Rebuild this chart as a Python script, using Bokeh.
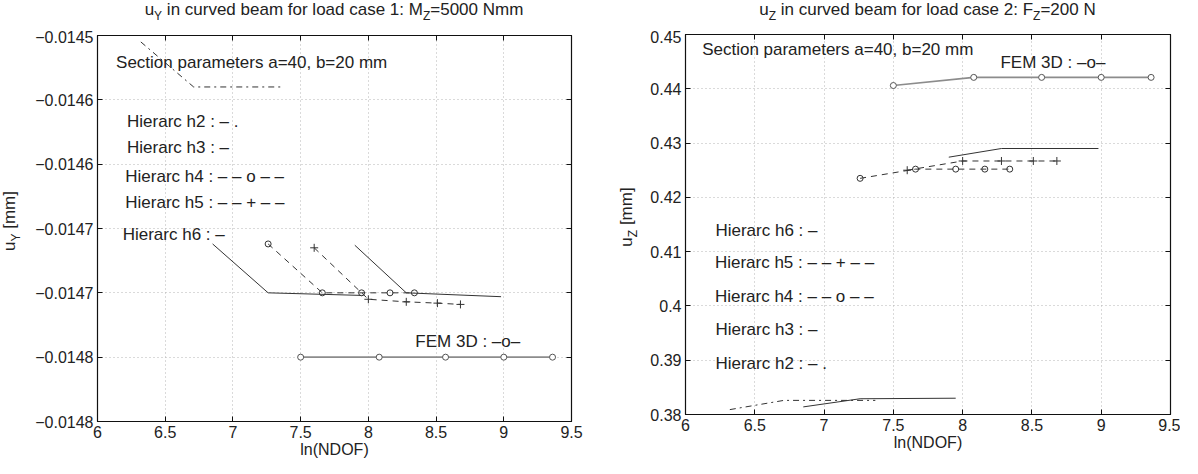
from bokeh.plotting import figure
from bokeh.models import Label, FixedTicker, Range1d, LinearAxis, Div
from bokeh.layouts import row, column
from bokeh.embed import file_html
from bokeh.resources import INLINE

FONT = "Liberation Sans"

# ---------------- data ----------------
x_ticks = [6, 6.5, 7, 7.5, 8, 8.5, 9, 9.5]
x_tick_labels = ["6", "6.5", "7", "7.5", "8", "8.5", "9", "9.5"]

uy_ticks = [-0.0148, -0.01475, -0.0147, -0.01465, -0.0146, -0.01455, -0.0145]
uy_tick_labels = ["\u22120.0148", "\u22120.0148", "\u22120.0147", "\u22120.0147",
                  "\u22120.0146", "\u22120.0146", "\u22120.0145"]
uz_ticks = [0.38, 0.39, 0.40, 0.41, 0.42, 0.43, 0.44, 0.45]
uz_tick_labels = ["0.38", "0.39", "0.4", "0.41", "0.42", "0.43", "0.44", "0.45"]

lnndof_h2 = [6.32, 6.71, 7.37]
lnndof_h3 = [6.85, 7.26, 7.95]
lnndof_h4 = [7.26, 7.66, 7.95, 8.16, 8.34]
lnndof_h5 = [7.60, 8.00, 8.28, 8.51, 8.68]
lnndof_h6 = [7.90, 8.28, 8.98]
lnndof_fem = [7.50, 8.08, 8.57, 9.00, 9.36]

uy_h2 = [-0.014505, -0.014540, -0.014540]
uy_h3 = [-0.014662, -0.014700, -0.014702]
uy_h4 = [-0.014662, -0.014700, -0.014700, -0.014700, -0.014700]
uy_h5 = [-0.014665, -0.014705, -0.014707, -0.014708, -0.014709]
uy_h6 = [-0.014663, -0.014700, -0.014703]
uy_fem = [-0.014750, -0.014750, -0.014750, -0.014750, -0.014750]

uz_h2 = [0.3809, 0.3826, 0.3826]
uz_h3 = [0.3814, 0.3829, 0.3830]
uz_h4 = [0.4235, 0.4252, 0.4252, 0.4252, 0.4252]
uz_h5 = [0.4250, 0.4267, 0.4267, 0.4267, 0.4267]
uz_h6 = [0.4274, 0.4290, 0.4290]
uz_fem = [0.4406, 0.4421, 0.4421, 0.4421, 0.4421]

title_left = ("u", "Y", " in curved beam for load case 1: M", "Z", "=5000 Nmm")
title_right = ("u", "Z", " in curved beam for load case 2: F", "Z", "=200 N")
ylabel_left = ("u", "Y", " [mm]")
ylabel_right = ("u", "Z", " [mm]")
xlabel = "ln(NDOF)"

INK = "#222222"
SUBSTYLE = "font-size:12px;vertical-align:-5px;line-height:0;"


def sub_html(parts):
    out = ""
    for i, t in enumerate(parts):
        out += f'<span style="{SUBSTYLE}">{t}</span>' if i % 2 else t
    return out


def title_div(parts, width, frame_left, frame_w):
    html = (f'<div style="margin-left:{frame_left}px;width:{frame_w}px;text-align:center;'
            f'font-family:\'{FONT}\';font-size:17px;line-height:20px;color:{INK};'
            f'white-space:nowrap;">{sub_html(parts)}</div>')
    return Div(text=html, width=width, height=30, margin=0)


def ylabel_div(parts, width, height, cx, cy):
    html = (f'<div style="position:relative;width:{width}px;height:{height}px;">'
            f'<span style="position:absolute;left:{cx}px;top:{cy}px;'
            f'transform:translate(-50%,-50%) rotate(-90deg);white-space:nowrap;'
            f'font-family:\'{FONT}\';font-size:17px;line-height:20px;color:{INK};">'
            f'{sub_html(parts)}</span></div>')
    return Div(text=html, width=width, height=height, margin=0)


def note(p, x, y, t):
    p.add_layout(Label(x=x, y=y, text=t, text_font=FONT, text_font_size="17px",
                       text_color=INK, text_align="left", text_baseline="middle"))


def style_axis(ax, show_labels=True):
    ax.major_tick_in = 5
    ax.major_tick_out = 0
    ax.minor_tick_line_color = None
    ax.axis_line_color = "#111111"
    ax.major_tick_line_color = "#111111"
    ax.major_label_text_font = FONT
    if show_labels:
        ax.major_label_text_color = INK
        ax.major_label_text_font_size = "16px"
        ax.major_label_standoff = 4
    else:
        ax.major_label_text_color = None
        ax.major_label_text_font_size = "1px"
        ax.major_label_standoff = 0


def make_fig(width, height, yr, yticks, ylabels, bl, br, bt, bb):
    p = figure(width=width, height=height, x_range=Range1d(6, 9.5),
               y_range=Range1d(*yr), output_backend="svg", toolbar_location=None,
               min_border_left=bl, min_border_right=br, min_border_top=bt,
               min_border_bottom=bb)
    p.background_fill_color = "white"
    p.border_fill_color = "white"
    p.outline_line_color = "#111111"
    p.outline_line_width = 1.2
    bx = p.below[0]
    ly = p.left[0]
    bx.ticker = FixedTicker(ticks=x_ticks)
    bx.major_label_overrides = dict(zip(x_ticks, x_tick_labels))
    ly.ticker = FixedTicker(ticks=yticks)
    ly.major_label_overrides = dict(zip(yticks, ylabels))
    style_axis(bx)
    style_axis(ly)
    bx.axis_label = xlabel
    bx.axis_label_text_font = FONT
    bx.axis_label_text_font_size = "16px"
    bx.axis_label_text_font_style = "normal"
    bx.axis_label_text_color = INK
    bx.axis_label_standoff = 0
    top = LinearAxis(ticker=FixedTicker(ticks=x_ticks))
    right = LinearAxis(ticker=FixedTicker(ticks=yticks))
    style_axis(top, False)
    style_axis(right, False)
    p.add_layout(top, "above")
    p.add_layout(right, "right")
    p.grid.grid_line_color = "#b4b4b4"
    p.grid.grid_line_dash = "1 3"
    p.grid.grid_line_width = 1
    return p


def draw_series(p, h2, h3, h4, h5, h6, fem):
    col = "#333333"
    p.line(lnndof_h2, h2, line_color=col, line_width=1, line_dash="6 4 2 4")
    p.line(lnndof_h3, h3, line_color=col, line_width=1)
    p.line(lnndof_h4, h4, line_color=col, line_width=1, line_dash="6 5")
    p.scatter(lnndof_h4, h4, marker="circle", size=6, fill_color=None, line_color=col)
    p.line(lnndof_h5, h5, line_color=col, line_width=1, line_dash="6 5")
    p.scatter(lnndof_h5, h5, marker="cross", size=8, line_color=col)
    p.line(lnndof_h6, h6, line_color=col, line_width=1)
    p.line(lnndof_fem, fem, line_color="#8c8c8c", line_width=1.6)
    p.scatter(lnndof_fem, fem, marker="circle", size=6, fill_color="white",
              line_color="#555555")


# ---------------- left plot ----------------
p1 = make_fig(555, 431, (-0.0148, -0.0145), uy_ticks, uy_tick_labels, 67, 14, 5, 40)
draw_series(p1, uy_h2, uy_h3, uy_h4, uy_h5, uy_h6, uy_fem)
note(p1, 6.137, -0.0145212, "Section parameters a=40, b=20 mm")
note(p1, 6.218, -0.0145666, "Hierarc h2 : \u2013 .")
note(p1, 6.218, -0.0145873, "Hierarc h3 :  \u2013")
note(p1, 6.205, -0.0146093, "Hierarc h4 : \u2013 \u2013 o \u2013 \u2013")
note(p1, 6.205, -0.0146301, "Hierarc h5 : \u2013 \u2013 + \u2013 \u2013")
note(p1, 6.186, -0.0146547, "Hierarc h6 : \u2013")
note(p1, 8.347, -0.0147376, "FEM 3D : \u2013o\u2013")

left_block = column(
    title_div(title_left, 585, 97, 474),
    row(ylabel_div(ylabel_left, 30, 431, 10, 191), p1),
)

# ---------------- right plot ----------------
p2 = make_fig(539, 424, (0.38, 0.45), uz_ticks, uz_tick_labels, 44, 10, 4, 40)
draw_series(p2, uz_h2, uz_h3, uz_h4, uz_h5, uz_h6, uz_fem)
note(p2, 6.12, 0.44724, "Section parameters a=40, b=20 mm")
note(p2, 8.273, 0.44492, "FEM 3D : \u2013o\u2013")
note(p2, 6.216, 0.41398, "Hierarc h6 : \u2013")
note(p2, 6.212, 0.40796, "Hierarc h5 : \u2013 \u2013 + \u2013 \u2013")
note(p2, 6.212, 0.40179, "Hierarc h4 : \u2013 \u2013 o \u2013 \u2013")
note(p2, 6.216, 0.39562, "Hierarc h3 :  \u2013")
note(p2, 6.216, 0.38945, "Hierarc h2 : \u2013 .")

right_block = column(
    title_div(title_right, 595, 100, 485),
    row(ylabel_div(ylabel_right, 56, 424, 42, 187), p2),
)

layout = row(left_block, right_block)
open("out.html", "w").write(file_html(layout, INLINE))
